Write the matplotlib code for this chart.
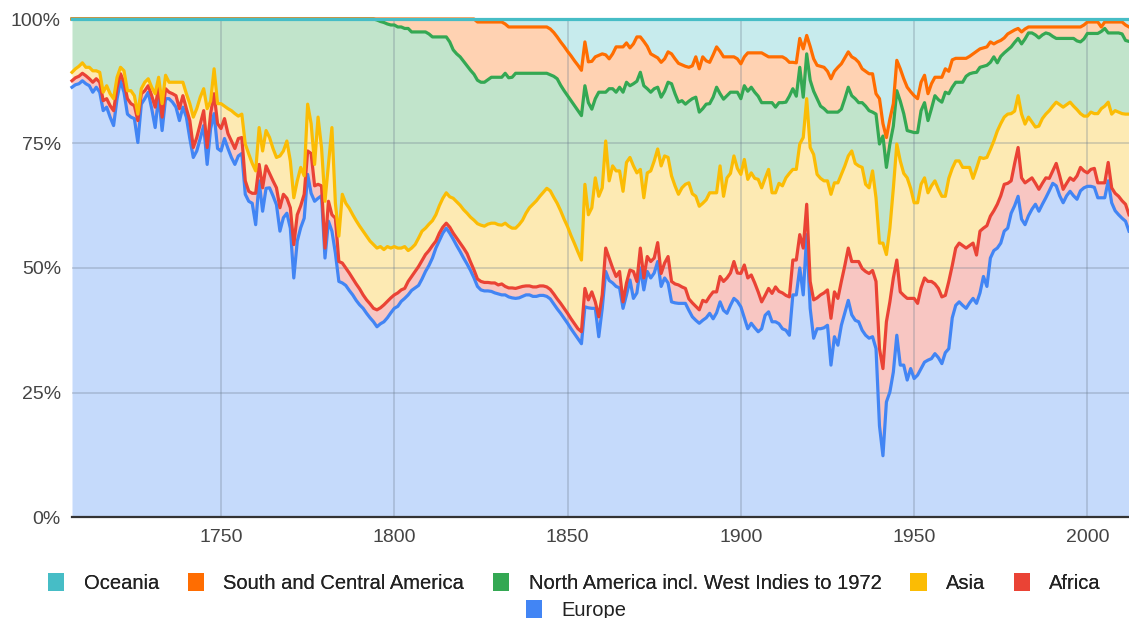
import numpy as np
import matplotlib
matplotlib.use("Agg")
import matplotlib.pyplot as plt
from matplotlib.patches import Patch

plt.rcParams['font.family'] = ['Liberation Sans', 'DejaVu Sans']

# Share of the total by region, stacked 100% chart.
# Each list holds the cumulative share (%) at the top of that region's band,
# read off the reference for every year 1707..2012.
years = np.arange(1707, 2013)

europe_top = [
    86.3, 86.8, 87.0, 87.6, 87.0, 86.6, 85.3, 86.3, 85.3, 81.6,
    82.3, 80.3, 78.6, 84.0, 87.6, 85.3, 80.9, 80.3, 80.0, 75.2,
    82.9, 84.0, 85.3, 82.0, 78.2, 84.6, 77.6, 84.0, 84.0, 83.3,
    82.3, 79.6, 82.3, 80.3, 76.0, 72.2, 73.5, 76.0, 78.6, 70.8,
    78.0, 81.0, 74.0, 73.5, 76.0, 74.0, 72.2, 70.8, 72.5, 73.0,
    # 1757-1808
    64.8, 63.4, 63.0, 58.7, 67.5, 61.4, 66.0, 66.1, 64.5, 62.7,
    57.4, 60.1, 61.0, 58.0, 48.0, 55.4, 58.1, 60.0, 68.8, 65.0,
    63.4, 64.0, 64.5, 52.0, 59.4, 57.4, 53.0, 47.3, 47.0, 46.5,
    45.5, 44.6, 43.5, 42.6, 41.9, 40.9, 40.0, 39.2, 38.2, 38.8,
    39.2, 40.0, 41.0, 41.9, 42.3, 43.3, 43.9, 44.6, 45.5, 46.0,
    46.5, 47.8,
    # 1809-1908
    49.3, 50.5, 52.0, 54.0, 55.5, 57.0, 58.0, 57.0, 55.8, 54.5,
    53.3, 52.0, 50.8, 49.5, 48.0, 46.3, 45.6, 45.4, 45.4, 45.3,
    45.0, 44.8, 44.6, 44.6, 44.2, 44.0, 43.9, 44.0, 44.3, 44.6,
    44.6, 44.3, 44.3, 44.5, 44.5, 44.3, 43.8, 42.8, 41.8, 40.9,
    39.9, 38.9, 37.8, 36.8, 35.8, 34.8, 42.2, 42.0, 41.9, 41.9,
    36.2, 41.9, 49.3, 47.5, 47.0, 46.3, 46.0, 41.9, 44.6, 47.6,
    43.9, 45.0, 50.0, 45.6, 49.3, 48.0, 49.0, 51.3, 46.3, 48.0,
    47.0, 43.2, 43.0, 42.9, 42.9, 42.9, 41.5, 40.2, 39.5, 38.9,
    39.5, 40.0, 40.9, 39.8, 41.0, 43.2, 41.5, 40.9, 42.5, 43.9,
    43.3, 42.2, 40.0, 37.8, 38.9, 38.0, 37.2, 37.8, 40.5, 41.2,
    # 1909-1958
    39.2, 39.2, 38.8, 37.8, 37.5, 36.5, 44.6, 44.6, 50.0, 44.6,
    56.7, 41.9, 35.9, 37.8, 37.8, 38.0, 38.5, 30.5, 36.2, 34.5,
    38.5, 41.0, 43.5, 40.6, 39.5, 39.2, 37.5, 36.5, 35.9, 36.2,
    33.8, 18.3, 12.3, 23.1, 25.1, 29.1, 36.5, 30.5, 30.5, 27.5,
    29.8, 27.8, 28.5, 29.8, 31.1, 31.5, 31.8, 32.8, 32.0, 30.8,
    # 1959-2012
    33.0, 33.8, 40.0, 42.5, 43.2, 42.5, 41.9, 43.0, 43.9, 42.9,
    45.0, 48.3, 46.3, 52.0, 53.5, 54.0, 55.0, 57.4, 58.0, 61.0,
    62.5, 64.4, 59.8, 58.7, 60.5, 61.8, 62.8, 61.4, 62.8, 64.1,
    65.5, 67.0, 66.5, 64.5, 63.1, 64.5, 65.4, 64.5, 63.8, 65.5,
    66.1, 66.4, 66.4, 66.2, 64.1, 64.1, 64.1, 67.5, 63.1, 61.5,
    60.7, 60.0, 59.4, 57.4,
]

africa_top = [
    87.6, 88.2, 88.5, 89.1, 88.6, 88.0, 87.3, 88.0, 87.3, 83.6,
    84.0, 82.6, 81.6, 86.3, 89.0, 87.3, 84.0, 83.0, 82.6, 79.6,
    85.0, 85.6, 86.6, 84.6, 82.3, 86.3, 80.3, 86.0, 85.3, 85.0,
    84.6, 82.0, 84.6, 82.0, 79.6, 74.2, 76.2, 78.9, 81.6, 74.2,
    81.0, 85.0, 79.0, 78.0, 80.0, 77.0, 75.5, 74.0, 76.0, 76.2,
    # 1757-1808
    67.5, 65.4, 65.0, 65.0, 70.8, 66.1, 70.5, 69.0, 67.5, 66.1,
    62.1, 64.8, 64.0, 62.1, 54.7, 60.7, 62.5, 64.8, 73.5, 73.0,
    66.5, 66.8, 66.5, 54.0, 63.4, 60.7, 60.0, 51.3, 51.0, 50.0,
    49.0, 47.9, 46.8, 45.8, 44.6, 43.6, 42.8, 41.9, 41.6, 42.0,
    42.6, 43.3, 44.0, 44.6, 45.0, 45.6, 45.9, 47.3, 48.3, 49.3,
    50.3, 51.5,
    # 1809-1908
    52.7, 53.5, 54.5, 55.4, 57.0, 58.2, 59.0, 58.2, 57.0, 56.0,
    55.0, 54.0, 52.9, 51.2, 49.6, 47.8, 47.3, 47.1, 47.1, 47.0,
    47.0, 46.6, 46.8, 46.3, 46.0, 46.0, 45.9, 46.1, 46.3, 46.4,
    46.4, 46.2, 46.2, 46.4, 46.4, 46.2, 45.7, 44.8, 43.8, 42.9,
    41.9, 40.9, 39.8, 38.8, 37.8, 37.2, 45.9, 43.6, 45.2, 43.2,
    40.2, 44.6, 54.0, 52.0, 50.0, 48.3, 49.3, 43.2, 47.0, 49.6,
    49.3, 47.3, 54.0, 48.0, 52.3, 51.3, 52.0, 55.1, 48.9, 51.0,
    52.3, 47.3, 46.8, 46.6, 46.2, 45.9, 43.8, 43.0, 42.3, 41.6,
    43.5, 43.2, 44.3, 45.2, 45.2, 48.3, 47.3, 48.0, 49.0, 51.3,
    49.0, 48.9, 50.6, 48.0, 48.6, 47.0, 45.2, 43.2, 44.5, 45.9,
    # 1909-1958
    44.9, 46.2, 45.3, 45.0, 44.5, 44.2, 51.6, 51.6, 56.7, 54.0,
    62.8, 47.3, 43.6, 44.0, 44.6, 45.0, 45.6, 39.9, 45.2, 43.9,
    47.3, 50.5, 54.0, 51.3, 51.3, 51.3, 49.9, 49.3, 48.9, 49.5,
    47.3, 33.8, 29.8, 39.2, 43.2, 48.0, 51.6, 45.2, 44.5, 43.9,
    43.9, 43.9, 42.9, 46.0, 48.0, 47.3, 47.3, 46.8, 45.9, 44.2,
    # 1959-2012
    44.5, 47.3, 50.5, 54.0, 55.0, 54.5, 54.0, 54.5, 55.0, 52.6,
    57.4, 58.0, 58.5, 60.4, 61.5, 62.8, 64.5, 66.8, 67.0, 67.5,
    71.0, 74.2, 68.1, 67.1, 67.6, 68.1, 67.0, 65.8, 67.0, 68.1,
    68.0, 69.5, 71.0, 68.5, 65.8, 67.0, 68.1, 67.6, 68.5, 70.2,
    69.5, 69.1, 69.8, 70.0, 67.1, 67.1, 67.1, 71.2, 66.1, 65.0,
    64.4, 63.5, 62.8, 60.7,
]

asia_top = [
    89.3, 90.0, 90.5, 91.2, 90.3, 90.3, 89.6, 89.6, 89.3, 85.3,
    86.6, 85.0, 84.0, 88.3, 90.3, 89.6, 85.6, 85.6, 84.6, 80.9,
    86.0, 87.3, 88.0, 86.3, 85.0, 88.3, 83.0, 88.7, 87.3, 87.3,
    87.3, 87.3, 87.3, 85.0, 83.0, 80.3, 82.0, 84.3, 86.0, 82.0,
    83.5, 90.0, 83.0, 83.0, 82.5, 82.0, 81.6, 81.0, 80.5, 80.9,
    # 1757-1808
    74.9, 72.9, 71.0, 69.5, 78.2, 73.5, 77.6, 76.2, 74.0, 72.2,
    72.5, 73.5, 75.5, 71.5, 64.1, 67.5, 70.2, 68.5, 82.9, 79.0,
    70.8, 80.3, 74.2, 63.4, 70.8, 78.2, 63.0, 56.4, 64.8, 63.0,
    62.0, 60.7, 59.5, 58.4, 57.4, 56.4, 55.4, 54.7, 54.0, 54.3,
    53.7, 54.3, 54.0, 54.3, 54.0, 54.0, 54.3, 53.5, 54.0, 54.7,
    56.0, 57.4,
    # 1809-1908
    58.0, 58.8, 59.5, 60.7, 62.5, 64.0, 65.1, 64.3, 64.0, 63.3,
    62.6, 61.7, 61.0, 60.2, 59.6, 58.9, 58.6, 58.4, 58.8, 59.0,
    59.0, 58.7, 58.6, 59.0, 58.4, 58.0, 58.0, 58.7, 59.6, 61.0,
    62.1, 62.8, 63.5, 64.4, 65.2, 66.0, 65.5, 64.2, 63.0, 61.5,
    59.8, 58.3, 56.5, 54.9, 53.2, 51.6, 66.8, 60.7, 62.1, 68.1,
    64.4, 66.1, 75.5, 67.5, 70.5, 69.5, 69.5, 65.4, 71.2, 72.2,
    70.5, 69.1, 69.8, 64.1, 69.1, 69.5, 71.5, 73.9, 70.5, 72.5,
    72.2, 68.5, 66.5, 64.8, 66.1, 66.8, 67.1, 64.9, 64.4, 62.4,
    63.0, 63.7, 65.1, 65.1, 65.1, 70.5, 64.4, 68.1, 69.0, 72.5,
    70.0, 68.8, 71.8, 67.8, 69.1, 68.0, 67.8, 66.1, 68.0, 69.8,
    # 1909-1958
    65.1, 65.1, 67.0, 66.5, 68.1, 69.0, 69.8, 69.8, 74.9, 76.2,
    84.0, 74.2, 72.8, 68.8, 68.0, 67.5, 67.5, 64.8, 67.1, 67.1,
    68.8, 70.5, 72.5, 73.5, 71.0, 70.5, 70.2, 66.8, 66.1, 69.5,
    64.1, 55.0, 55.0, 52.7, 58.0, 66.0, 74.9, 71.5, 69.0, 68.1,
    66.0, 63.1, 63.1, 66.8, 68.1, 65.1, 66.5, 67.5, 65.8, 64.4,
    # 1959-2012
    64.4, 68.0, 70.0, 71.5, 71.5, 70.2, 70.2, 70.2, 68.0, 70.0,
    72.2, 72.0, 72.2, 73.8, 75.5, 77.5, 79.0, 80.3, 80.9, 81.0,
    81.5, 84.6, 80.9, 78.9, 80.3, 79.3, 78.3, 78.5, 80.0, 80.9,
    81.6, 82.5, 83.3, 82.8, 82.3, 82.8, 83.3, 82.5, 81.8, 81.0,
    80.5, 80.5, 81.3, 81.0, 81.0, 82.0, 82.5, 83.3, 80.9, 81.6,
    81.3, 81.0, 80.9, 80.9,
]

north_america_top = [100.0] * 88 + [
    # 1795-1808
    99.8, 99.5, 99.3, 99.0, 98.8, 98.8, 98.4, 98.4, 98.1, 98.1,
    97.4, 97.4, 97.4, 97.4,
    # 1809-1908
    97.4, 97.0, 96.4, 96.4, 96.4, 96.4, 96.4, 95.4, 93.8, 93.0,
    92.4, 91.5, 90.6, 89.7, 88.9, 87.7, 87.3, 87.3, 87.8, 88.3,
    88.3, 88.3, 88.3, 89.1, 88.2, 88.3, 89.1, 89.1, 89.1, 89.1,
    89.1, 89.1, 89.1, 89.1, 89.1, 89.1, 88.8, 88.5, 88.0, 86.7,
    85.6, 84.6, 83.6, 82.6, 81.6, 80.6, 86.6, 83.2, 81.9, 84.0,
    85.3, 85.3, 85.3, 86.0, 86.0, 85.3, 86.3, 85.3, 87.3, 86.6,
    87.0, 87.5, 89.3, 86.6, 86.0, 85.3, 86.0, 86.3, 84.3, 85.5,
    87.3, 87.0, 85.0, 83.3, 83.6, 82.9, 83.5, 84.0, 84.3, 81.3,
    82.0, 82.9, 83.0, 84.3, 86.3, 85.0, 83.9, 84.6, 85.3, 85.3,
    85.3, 84.0, 86.6, 85.5, 86.3, 85.3, 84.5, 83.2, 83.2, 83.2,
    # 1909-1958
    83.2, 82.3, 83.2, 83.2, 83.3, 84.5, 86.0, 84.5, 90.3, 84.3,
    93.0, 87.7, 85.5, 84.0, 82.5, 82.0, 81.3, 81.3, 81.3, 81.3,
    81.9, 84.0, 86.3, 84.6, 84.0, 83.2, 83.2, 82.5, 81.6, 81.3,
    80.9, 74.9, 76.5, 70.2, 74.9, 78.5, 85.6, 83.5, 81.0, 77.6,
    77.4, 77.2, 77.2, 81.6, 83.2, 79.6, 82.0, 84.6, 83.8, 83.3,
    # 1959-2012
    85.3, 85.0, 86.3, 87.3, 87.3, 87.3, 88.5, 89.0, 89.2, 89.3,
    90.3, 90.5, 90.7, 91.3, 92.4, 91.2, 92.5, 93.2, 93.8, 94.4,
    95.3, 96.1, 95.0, 96.0, 97.2, 97.2, 96.8, 96.2, 96.8, 97.2,
    97.0, 96.5, 96.1, 96.1, 96.1, 96.1, 96.1, 96.1, 95.6, 95.4,
    96.0, 97.1, 97.1, 97.1, 97.1, 97.5, 98.1, 97.2, 97.2, 97.2,
    97.2, 97.0, 95.7, 95.5,
]

south_america_top = [100.0] * 117 + [
    # 1824-1908
    99.4, 99.4, 99.4, 99.4, 99.4, 99.4, 99.4, 99.4, 99.0, 98.4,
    98.4, 98.4, 98.4, 98.4, 98.4, 98.4, 98.4, 98.4, 98.4, 98.4,
    98.4, 98.0, 97.3, 96.4, 95.4, 94.5, 93.5, 92.6, 91.6, 90.7,
    89.7, 95.4, 91.4, 91.5, 92.4, 92.7, 93.0, 92.8, 92.0, 93.0,
    94.4, 94.4, 94.4, 95.2, 94.2, 95.0, 96.4, 96.4, 95.5, 94.5,
    93.0, 92.6, 92.2, 91.3, 92.0, 93.4, 93.0, 92.0, 91.1, 90.8,
    90.5, 90.3, 90.6, 92.4, 90.0, 92.4, 91.6, 91.3, 92.8, 94.4,
    93.5, 92.4, 92.4, 92.4, 92.4, 92.0, 91.0, 92.4, 93.2, 93.2,
    93.2, 93.2, 93.2, 92.8, 92.4,
    # 1909-1958
    92.4, 92.4, 92.4, 92.4, 92.0, 91.3, 91.3, 91.2, 96.1, 94.0,
    96.7, 94.5, 92.0, 90.7, 90.5, 90.3, 89.5, 88.0, 89.5, 90.3,
    91.0, 92.2, 93.4, 92.4, 92.0, 91.3, 90.0, 89.5, 89.0, 89.0,
    85.0, 84.0, 79.0, 76.2, 79.9, 83.0, 91.7, 90.0, 88.0, 86.3,
    85.4, 84.6, 84.0, 87.3, 88.7, 85.0, 87.0, 88.3, 88.3, 88.3,
    # 1959-2012
    90.0, 89.5, 91.8, 92.1, 92.1, 92.1, 92.1, 92.5, 93.0, 93.5,
    94.0, 94.2, 94.4, 95.4, 95.0, 95.4, 95.7, 96.2, 97.0, 97.4,
    97.8, 98.1, 97.4, 98.0, 98.4, 98.4, 98.4, 98.4, 98.4, 98.4,
    98.4, 98.4, 98.4, 98.4, 98.4, 98.4, 98.4, 98.4, 98.4, 98.4,
    98.8, 99.4, 99.4, 99.4, 99.4, 98.4, 99.4, 99.4, 99.4, 99.4,
    99.4, 99.4, 98.8, 98.4,
]

oceania_top = [100.0] * len(years)

regions = ['Europe', 'Africa', 'Asia', 'North America incl. West Indies to 1972',
           'South and Central America', 'Oceania']
colors = ['#4285F4', '#EA4335', '#FBBC04', '#34A853', '#FF6D01', '#46BDC6']
tops = [europe_top, africa_top, asia_top, north_america_top,
        south_america_top, oceania_top]

fig = plt.figure(figsize=(11.29, 6.18), dpi=100)
ax = fig.add_axes([72 / 1129, 1 - 517 / 618, (1129 - 72) / 1129, (517 - 19) / 618])

bottom = np.zeros(len(years))
for top, c in zip(tops, colors):
    top = np.array(top)
    ax.fill_between(years, bottom, top, color=c, alpha=0.3, lw=0, zorder=1)
    bottom = top
for top, c in zip(tops, colors):
    ax.plot(years, top, color=c, lw=2.3, zorder=3, solid_joinstyle='round',
            clip_on=False)

ax.set_xlim(years[0], years[-1])
ax.set_ylim(0, 100)
ax.set_yticks([0, 25, 50, 75, 100])
ax.set_yticklabels(['0%', '25%', '50%', '75%', '100%'])
ax.set_xticks([1750, 1800, 1850, 1900, 1950, 2000])
ax.tick_params(length=0, labelsize=14, colors='#444444')
ax.tick_params(axis='y', pad=8)
ax.tick_params(axis='x', pad=9)
ax.set_axisbelow(False)
ax.grid(color='#6a7a8c', alpha=0.3, lw=1.3, zorder=2)

for s in ['top', 'right', 'left']:
    ax.spines[s].set_visible(False)
ax.spines['bottom'].set_color('#333333')
ax.spines['bottom'].set_linewidth(1.6)
ax.spines['bottom'].set_zorder(4)

leg_kw = dict(loc='center', frameon=False, fontsize=14.5, handlelength=0.8,
              handleheight=0.95, handletextpad=0.95, labelcolor='#222222')
order = [5, 4, 3, 2, 1]
handles = [Patch(facecolor=colors[i], edgecolor='none') for i in order]
leg1 = fig.legend(handles, [regions[i] for i in order],
                  bbox_to_anchor=(0.509, 1 - 583 / 618), ncol=5,
                  columnspacing=1.45, **leg_kw)
fig.add_artist(leg1)
fig.legend([Patch(facecolor=colors[0], edgecolor='none')], [regions[0]],
           bbox_to_anchor=(0.51, 1 - 610 / 618), **leg_kw)

fig.savefig('out.png', dpi=100)
